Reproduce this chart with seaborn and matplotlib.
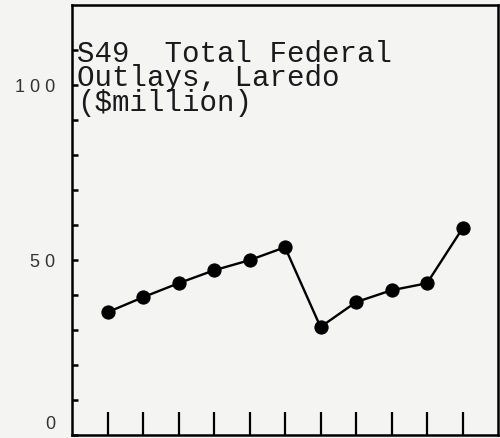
import matplotlib
matplotlib.use("Agg")
import matplotlib.pyplot as plt
import matplotlib.transforms as mtransforms
import numpy as np
import pandas as pd
import seaborn as sns

# Annual federal outlays, Laredo ($ million), eleven periods
periods = [1, 2, 3, 4, 5, 6, 7, 8, 9, 10, 11]
outlays = [35.1, 39.4, 43.4, 47.1, 50.0, 53.7, 30.9, 38.0, 41.4, 43.4, 59.1]

ytick_values = [0, 10, 20, 30, 40, 50, 60, 70, 80, 90, 100, 110]
ytick_text = {0: "0", 50: "5 0", 100: "1 0 0"}
title_lines = ["S49  Total Federal", "Outlays, Laredo", "($million)"]

df = pd.DataFrame({"period": periods, "outlays": outlays})

sns.set_theme(style="white")
plt.rcParams["font.family"] = ["Liberation Mono", "DejaVu Sans Mono"]

paper = "#f4f4f3"
fig = plt.figure(figsize=(5.0, 4.38), dpi=100, facecolor=paper)
ax = fig.add_axes([0.144, 0.0068, 0.852, 0.982])
ax.set_facecolor(paper)

sns.lineplot(data=df, x="period", y="outlays", ax=ax, color="black",
             linewidth=1.7, marker="o", markersize=9.5, markeredgecolor="black",
             markerfacecolor="black")

ax.set_xlim(0, 12)
ax.set_ylim(0, 123)
ax.set_xlabel("")
ax.set_ylabel("")

ax.set_xticks(periods)
ax.set_xticklabels([])
ax.tick_params(axis="x", bottom=True, direction="in", length=16.5, width=1.6,
               color="black")

ax.set_yticks(ytick_values)
ax.set_yticklabels([ytick_text.get(v, "") for v in ytick_values],
                   family=["Liberation Sans", "DejaVu Sans"], fontsize=13,
                   color="#333333")
ax.tick_params(axis="y", left=True, direction="in", length=4.5, width=1.8,
               color="black", pad=12)
# the bottom label sits a little above the baseline
for lab, v in zip(ax.get_yticklabels(), ytick_values):
    if v == 0:
        lab.set_transform(lab.get_transform() +
                          mtransforms.ScaledTranslation(0, 13 / 100, fig.dpi_scale_trans))

for side in ["left", "right", "top", "bottom"]:
    ax.spines[side].set_visible(True)
    ax.spines[side].set_color("black")
    ax.spines[side].set_linewidth(1.8)

ax.text(0.012, 0.919, "\n".join(title_lines), transform=ax.transAxes,
        ha="left", va="top", fontsize=21, linespacing=0.84, color="#1a1a1a")

fig.savefig("out.png", dpi=100, facecolor=paper)
